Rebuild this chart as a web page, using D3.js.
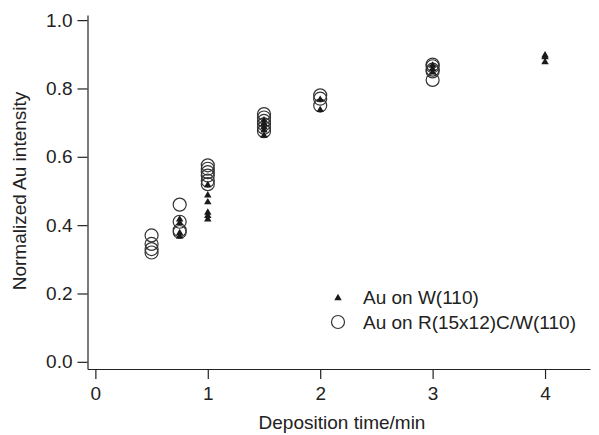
<!DOCTYPE html>
<html>
<head>
<meta charset="utf-8">
<script src="https://cdn.jsdelivr.net/npm/d3@7"></script>
<style>
  body { margin: 0; background: #fff; }
  svg text { font-family: "Liberation Sans", Arial, sans-serif; fill: #222; }
</style>
</head>
<body>
<svg id="chart" width="599" height="435"></svg>
<script>
// Au on W(110) - filled triangles
const wTime  = [0.75, 0.75, 0.75, 0.75,
                1, 1, 1, 1, 1, 1,
                1.5, 1.5, 1.5, 1.5, 1.5,
                2, 2,
                3, 3, 3,
                4, 4, 4];
const wValue = [0.42, 0.41, 0.38, 0.37,
                0.52, 0.49, 0.47, 0.44, 0.43, 0.42,
                0.71, 0.70, 0.69, 0.68, 0.665,
                0.77, 0.74,
                0.87, 0.86, 0.85,
                0.90, 0.895, 0.88];

// Au on R(15x12)C/W(110) - open circles
const rTime  = [0.5, 0.5, 0.5, 0.5,
                0.75, 0.75, 0.75, 0.75,
                1, 1, 1, 1, 1, 1,
                1.5, 1.5, 1.5, 1.5, 1.5, 1.5,
                2, 2, 2,
                3, 3, 3, 3, 3];
const rValue = [0.37, 0.345, 0.33, 0.32,
                0.46, 0.41, 0.385, 0.38,
                0.575, 0.565, 0.555, 0.545, 0.53, 0.52,
                0.725, 0.715, 0.705, 0.695, 0.685, 0.675,
                0.78, 0.77, 0.75,
                0.87, 0.865, 0.855, 0.85, 0.825];

const xTicks = [0, 1, 2, 3, 4];
const yTicks = [0, 0.2, 0.4, 0.6, 0.8, 1.0];
const legendLabels = ['Au on W(110)', 'Au on R(15x12)C/W(110)'];

const svg = d3.select('#chart');

const x = d3.scaleLinear().domain([-0.07, 4.4]).range([87.5, 590]);
const y = d3.scaleLinear().domain([-0.021, 1.015]).range([369, 15]);

const fontSize = 19;

// x axis
const xAxis = svg.append('g')
    .attr('transform', `translate(0,${y.range()[0]})`)
    .call(d3.axisBottom(x).tickValues(xTicks).tickFormat(d3.format('d'))
        .tickSize(10).tickSizeOuter(0).tickPadding(8));

// y axis
const yAxis = svg.append('g')
    .attr('transform', `translate(${x.range()[0]},0)`)
    .call(d3.axisLeft(y).tickValues(yTicks).tickFormat(d3.format('.1f'))
        .tickSize(10).tickSizeOuter(0).tickPadding(5));

[xAxis, yAxis].forEach(g => {
    g.selectAll('path, line').attr('stroke', '#222').attr('stroke-width', 1.2);
    g.selectAll('text').attr('font-size', fontSize).attr('fill', '#222')
        .attr('font-family', '"Liberation Sans", Arial, sans-serif');
});

// axis titles
svg.append('text')
    .attr('x', 342)
    .attr('y', 429)
    .attr('text-anchor', 'middle')
    .attr('font-size', fontSize)
    .text('Deposition time/min');

svg.append('text')
    .attr('transform', `translate(26,${y(0.5)}) rotate(-90)`)
    .attr('text-anchor', 'middle')
    .attr('font-size', fontSize)
    .text('Normalized Au intensity');

const triangle = d3.symbol().type(d3.symbolTriangle).size(24);

// circles
const rData = rTime.map((t, i) => ({ t: t, v: rValue[i] }));
svg.append('g').selectAll('circle')
    .data(rData)
    .enter()
    .append('circle')
    .attr('cx', d => x(d.t))
    .attr('cy', d => y(d.v))
    .attr('r', 6.5)
    .attr('fill', 'none')
    .attr('stroke', '#333')
    .attr('stroke-width', 1.2);

// triangles
const wData = wTime.map((t, i) => ({ t: t, v: wValue[i] }));
svg.append('g').selectAll('path')
    .data(wData)
    .enter()
    .append('path')
    .attr('d', triangle)
    .attr('transform', d => `translate(${x(d.t)},${y(d.v) + 1})`)
    .attr('fill', '#1a1a1a');

// legend
const legend = svg.append('g').attr('transform', 'translate(338,297)');
legend.append('path')
    .attr('d', triangle)
    .attr('transform', 'translate(0,1)')
    .attr('fill', '#1a1a1a');
legend.append('circle')
    .attr('cx', 0)
    .attr('cy', 25)
    .attr('r', 6.5)
    .attr('fill', 'none')
    .attr('stroke', '#333')
    .attr('stroke-width', 1.2);
legend.selectAll('text')
    .data(legendLabels)
    .enter()
    .append('text')
    .attr('x', 25)
    .attr('y', (d, i) => i * 25)
    .attr('dy', '0.35em')
    .attr('font-size', fontSize)
    .text(d => d);
</script>
</body>
</html>
